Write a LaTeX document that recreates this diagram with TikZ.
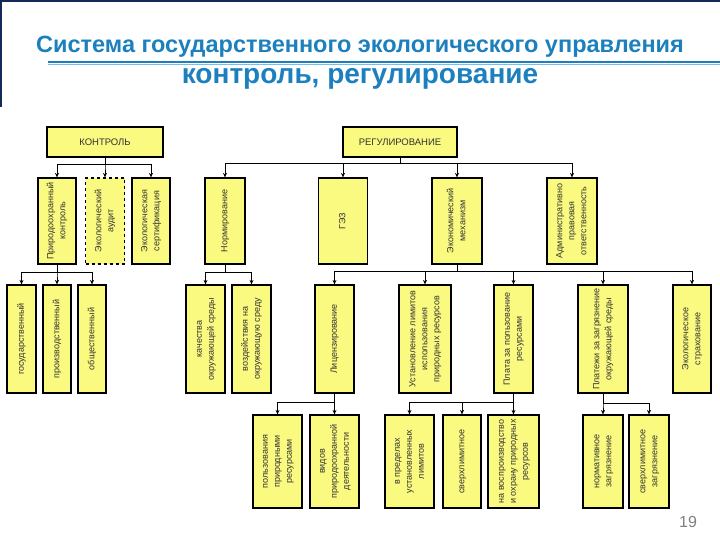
\documentclass[tikz,border=0pt]{standalone}
\usepackage{fontspec}
\setmainfont{Liberation Sans}
\usetikzlibrary{arrows.meta}
\definecolor{titleblue}{RGB}{28,128,190}
\definecolor{lineblue}{RGB}{120,190,230}
\definecolor{boxyellow}{RGB}{250,250,128}
\definecolor{framenavy}{RGB}{20,40,90}
\newcommand{\vlabel}[1]{\rotatebox{90}{\begin{tabular}{@{}c@{}}#1\end{tabular}}}

\begin{document}
\begin{tikzpicture}[x=1pt, y=-1pt,
    box/.style={draw=black, line width=1.2pt, fill=boxyellow, inner sep=0pt,
      text=black!80, font=\fontsize{9}{12}\selectfont},
    sz/.style 2 args={minimum width=#1pt, minimum height=#2pt},
    link/.style={line width=1pt, -{Stealth[length=4.5pt,width=4pt]}}]
    \useasboundingbox (0,0) rectangle (720,540);
    % frame and title
    \draw[framenavy, line width=1.8pt] (1,107) -- (1,1) -- (720,1);
    \node[text=titleblue, font=\fontsize{23.5}{27}\selectfont\bfseries] (title) at (360,47)
      {Система государственного экологического управления};
    \draw[titleblue, line width=1.5pt] (48,62) -- (720,62);
    \draw[lineblue, line width=1.5pt] (48,64.5) -- (720,64.5);
    \node[text=titleblue, font=\fontsize{28}{32}\selectfont\bfseries] (subtitle) at (360,79)
      {контроль, регулирование};
    % row 1
    \node[box, sz={116}{30}, font=\fontsize{9.5}{11}\selectfont] (kontrol) at (105,142) {КОНТРОЛЬ};
    \node[box, sz={114}{30}, font=\fontsize{9.5}{11}\selectfont] (regul) at (400,142) {РЕГУЛИРОВАНИЕ};
    % row 2
    \node[box, sz={38}{86}] (prk) at (57,221) {\vlabel{Природоохранный\\контроль}};
    \node[box, sz={39}{86}, dashed] (audit) at (105,221) {\vlabel{Экологический\\аудит}};
    \node[box, sz={38}{86}] (sert) at (151,221) {\vlabel{Экологическая\\сертификация}};
    \node[box, sz={40}{86}] (norm) at (225,221) {\vlabel{Нормирование}};
    \node[box, sz={49}{86}] (gez) at (343,221) {\vlabel{ГЭЗ}};
    \node[box, sz={50}{86}] (econ) at (457,221) {\vlabel{Экономический\\механизм}};
    \node[box, sz={50}{86}] (adm) at (572,221) {\vlabel{Административно\\правовая\\ответственность}};
    % row 3
    \node[box, sz={29}{108}] (gos) at (21.5,339) {\vlabel{государственный}};
    \node[box, sz={28}{108}] (proizv) at (57,339) {\vlabel{производственный}};
    \node[box, sz={28}{108}] (obsch) at (92,339) {\vlabel{общественный}};
    \node[box, sz={39}{108}] (kach) at (205.5,339) {\vlabel{качества\\окружающей среды}};
    \node[box, sz={39}{108}] (vozd) at (251.5,339) {\vlabel{воздействия на\\окружающую среду}};
    \node[box, sz={39}{108}] (lic) at (334.5,339) {\vlabel{Лицензирование}};
    \node[box, sz={52}{108}] (limit) at (425,339) {\vlabel{Установление лимитов\\использования\\природных ресурсов}};
    \node[box, sz={39}{108}] (plata) at (513.5,339) {\vlabel{Плата за пользование\\ресурсами}};
    \node[box, sz={50}{108}] (platezh) at (603,339) {\vlabel{Платежи за загрязнение\\окружающей среды}};
    \node[box, sz={38}{108}] (strah) at (692,339) {\vlabel{Экологическое\\страхование}};
    % row 4
    \node[box, sz={49}{93}] (polz) at (277.5,461.5) {\vlabel{пользования\\природными\\ресурсами}};
    \node[box, sz={49}{93}] (vidov) at (334.5,461.5) {\vlabel{видов\\природоохранной\\деятельности}};
    \node[box, sz={49}{93}] (vpred) at (409.5,461.5) {\vlabel{в пределах\\установленных\\лимитов}};
    \node[box, sz={38}{93}] (sverhlim) at (462,461.5) {\vlabel{сверхлимитное}};
    \node[box, sz={51}{93}] (vosp) at (513.5,461.5) {\vlabel{на воспроизводство\\и охрану природных\\ресурсов}};
    \node[box, sz={40}{93}] (normzagr) at (603,461.5) {\vlabel{нормативное\\загрязнение}};
    \node[box, sz={40}{93}] (sverhzagr) at (649,461.5) {\vlabel{сверхлимитное\\загрязнение}};
    % connectors
    \foreach \c in {prk,audit,sert}
      \draw[link] (kontrol.south) -- ++(0,7) -| (\c.north);
    \foreach \c in {norm,gez,econ,adm}
      \draw[link] (regul.south) -- ++(0,6) -| (\c.north);
    \foreach \c in {gos,proizv,obsch}
      \draw[link] (prk.south) -- ++(0,8) -| (\c.north);
    \foreach \c in {kach,vozd}
      \draw[link] (norm.south) -- ++(0,8) -| (\c.north);
    \foreach \c in {lic,limit,plata,platezh,strah}
      \draw[link] (econ.south) -- ++(0,7) -| (\c.north);
    \foreach \c in {polz,vidov}
      \draw[link] (lic.south) -- ++(0,9) -| (\c.north);
    \foreach \c in {vpred,sverhlim,vosp}
      \draw[link] (plata.south) -- ++(0,9) -| (\c.north);
    \foreach \c in {normzagr,sverhzagr}
      \draw[link] (platezh.south) -- ++(0,10) -| (\c.north);
    % page number
    \node[text=gray, font=\fontsize{16}{18}\selectfont] (page) at (688,522) {19};
\end{tikzpicture}
\end{document}
